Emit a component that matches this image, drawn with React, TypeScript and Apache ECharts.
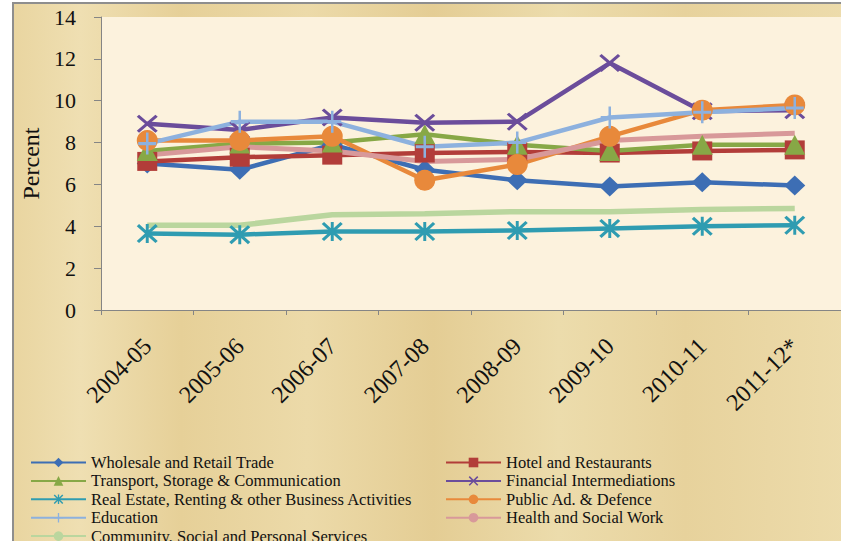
import React, { useEffect, useRef } from "react";
import * as echarts from "echarts";

const categories = ["2004-05", "2005-06", "2006-07", "2007-08", "2008-09", "2009-10", "2010-11", "2011-12*"];
const yTicks = { min: 0, max: 14, interval: 2 };

const wholesale = [7.0, 6.7, 7.9, 6.7, 6.2, 5.9, 6.1, 5.95];
const hotel = [7.1, 7.3, 7.4, 7.5, 7.55, 7.5, 7.6, 7.65];
const transport = [7.6, 7.95, 8.0, 8.4, 7.9, 7.6, 7.9, 7.9];
const financial = [8.9, 8.6, 9.2, 8.95, 9.0, 11.8, 9.5, 9.55];
const realEstate = [3.65, 3.6, 3.75, 3.75, 3.8, 3.9, 4.0, 4.05];
const publicAd = [8.1, 8.1, 8.3, 6.2, 6.95, 8.3, 9.55, 9.8];
const education = [7.95, 9.0, 9.0, 7.8, 8.0, 9.2, 9.45, 9.65];
const health = [7.4, 7.8, 7.6, 7.1, 7.2, 8.1, 8.3, 8.45];
const community = [4.05, 4.05, 4.55, 4.6, 4.7, 4.7, 4.8, 4.85];

const names = [
  "Wholesale and Retail Trade",
  "Hotel and Restaurants",
  "Transport, Storage & Communication",
  "Financial Intermediations",
  "Real Estate, Renting & other Business Activities",
  "Public Ad. & Defence",
  "Education",
  "Health and Social Work",
  "Community, Social and Personal Services",
];
const leftLegend = [names[0], names[2], names[4], names[6], names[8]];
const rightLegend = [names[1], names[3], names[5], names[7]];

const X_PATH =
  "path://M0,2.2 L2.2,0 L10,7.8 L17.8,0 L20,2.2 L12.2,10 L20,17.8 L17.8,20 L10,12.2 L2.2,20 L0,17.8 L7.8,10 Z";
const STAR_PATH = X_PATH.replace(" Z", " Z M8.6,0 L11.4,0 L11.4,20 L8.6,20 Z");
const PLUS_PATH =
  "path://M8.6,0 L11.4,0 L11.4,8.6 L20,8.6 L20,11.4 L11.4,11.4 L11.4,20 L8.6,20 L8.6,11.4 L0,11.4 L0,8.6 L8.6,8.6 Z";

const SERIF = "Liberation Serif";

function mk(name: string, data: number[], color: string, symbol: string, size: any, width = 4.5) {
  return {
    name,
    type: "line",
    data,
    symbol,
    symbolSize: size,
    showSymbol: symbol !== "none",
    lineStyle: { color, width },
    itemStyle: { color, borderWidth: 0 },
    emphasis: { disabled: true },
  };
}

export default function App() {
  const ref = useRef<HTMLDivElement>(null);
  useEffect(() => {
    const chart = echarts.init(ref.current!, null, { renderer: "svg" });
    const legendText = { fontFamily: SERIF, fontSize: 16.5, lineHeight: 15, color: "#111" };
    const legendBase = {
      orient: "vertical",
      top: 454,
      height: 120,
      width: 400,
      padding: 0,
      itemWidth: 55,
      itemHeight: 12,
      itemGap: 1.4,
      textStyle: legendText,
      selectedMode: false,
    };
    chart.setOption({
      animation: false,
      backgroundColor: "#ffffff",
      graphic: [
        {
          type: "rect",
          z: -10,
          silent: true,
          shape: { x: 13, y: 3, width: 840, height: 540 },
          style: {
            fill: new echarts.graphic.LinearGradient(0, 0, 1, 0, [
              { offset: 0, color: "#e9d5a0" },
              { offset: 0.08, color: "#efdfb2" },
              { offset: 0.2, color: "#e6d098" },
              { offset: 0.35, color: "#ecdaa9" },
              { offset: 0.5, color: "#e4cd94" },
              { offset: 0.65, color: "#ecdcac" },
              { offset: 0.8, color: "#e7d29c" },
              { offset: 1, color: "#eddcac" },
            ]),
            stroke: "#8e8e8e",
            lineWidth: 2,
          },
        },
      ],
      grid: {
        left: 101,
        top: 17,
        width: 744,
        height: 293,
        show: true,
        backgroundColor: "#fcf2dd",
        borderWidth: 0,
      },
      legend: [
        { ...legendBase, left: 30, data: leftLegend },
        { ...legendBase, left: 445, data: rightLegend },
      ],
      xAxis: {
        type: "category",
        data: categories,
        boundaryGap: true,
        axisLine: { lineStyle: { color: "#858585", width: 1 } },
        axisTick: { show: true, length: 5, lineStyle: { color: "#858585" } },
        axisLabel: {
          rotate: 45,
          margin: 32,
          fontFamily: SERIF,
          fontSize: 24,
          color: "#111",
        },
        splitLine: { show: false },
      },
      yAxis: {
        type: "value",
        min: yTicks.min,
        max: yTicks.max,
        interval: yTicks.interval,
        name: "Percent",
        nameLocation: "middle",
        nameGap: 57,
        nameTextStyle: { fontFamily: SERIF, fontSize: 24, color: "#111" },
        axisLine: { show: true, lineStyle: { color: "#858585", width: 1 } },
        axisTick: { show: true, length: 7, lineStyle: { color: "#858585" } },
        axisLabel: { margin: 25, fontFamily: SERIF, fontSize: 22, color: "#111" },
        splitLine: { show: false },
      },
      series: [
        mk(names[0], wholesale, "#3d6eb4", "diamond", [21, 20]),
        mk(names[1], hotel, "#b23d39", "rect", [20, 19]),
        mk(names[2], transport, "#87a846", "triangle", [21, 20]),
        mk(names[3], financial, "#6b4d9b", X_PATH, [21, 18]),
        mk(names[4], realEstate, "#2f9cb1", STAR_PATH, [21, 19]),
        mk(names[5], publicAd, "#e8893b", "circle", 21),
        mk(names[6], education, "#8db1de", PLUS_PATH, [18, 22]),
        mk(names[7], health, "#d8999a", "none", 0, 5),
        mk(names[8], community, "#bad69e", "none", 0, 5.5),
      ],
    });
    return () => chart.dispose();
  }, []);
  return (
    <div
      ref={ref}
      style={{ position: "absolute", left: 0, top: 0, width: 841, height: 541 }}
    />
  );
}
